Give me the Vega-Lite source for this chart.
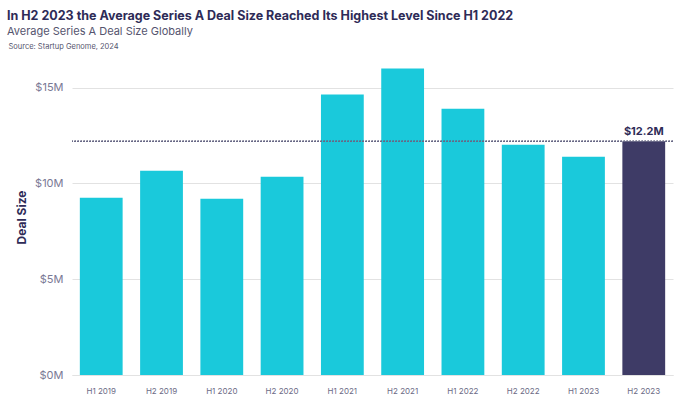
{
  "$schema": "https://vega.github.io/schema/vega-lite/v6.json",
  "autosize": {"type": "none"},
  "width": 601,
  "height": 316,
  "padding": {"left": 72, "top": 59, "right": 11, "bottom": 23},
  "background": "white",
  "config": {
    "font": "Inter",
    "view": {"stroke": null}
  },
  "title": {
    "text": "In H2 2023 the Average Series A Deal Size Reached Its Highest Level Since H1 2022",
    "subtitle": "Average Series A Deal Size Globally",
    "anchor": "start",
    "frame": "bounds",
    "dx": -1,
    "dy": -5,
    "fontSize": 12.5,
    "fontWeight": "bold",
    "color": "#2e2b57",
    "subtitleFontSize": 11,
    "subtitleColor": "#55546e",
    "subtitlePadding": 4,
    "offset": 0
  },
  "data": {
    "values": [
      {"period": "H1 2019", "value": 9.25, "highlight": "no"},
      {"period": "H2 2019", "value": 10.66, "highlight": "no"},
      {"period": "H1 2020", "value": 9.2, "highlight": "no"},
      {"period": "H2 2020", "value": 10.35, "highlight": "no"},
      {"period": "H1 2021", "value": 14.64, "highlight": "no"},
      {"period": "H2 2021", "value": 16.0, "highlight": "no"},
      {"period": "H1 2022", "value": 13.9, "highlight": "no"},
      {"period": "H2 2022", "value": 12.02, "highlight": "no"},
      {"period": "H1 2023", "value": 11.4, "highlight": "no"},
      {"period": "H2 2023", "value": 12.2, "highlight": "yes"}
    ]
  },
  "resolve": {"axis": {"x": "independent"}},
  "layer": [
    {
      "mark": {"type": "bar"},
      "encoding": {
        "x": {
          "field": "period",
          "type": "nominal",
          "sort": null,
          "scale": {"paddingInner": 0.29, "paddingOuter": 0.13},
          "axis": {
            "title": null,
            "labelAngle": 0,
            "labelFontSize": 8,
            "labelColor": "#6b6a85",
            "labelPadding": 12,
            "ticks": false,
            "domainColor": "#e2e2e2",
            "grid": false
          }
        },
        "y": {
          "field": "value",
          "type": "quantitative",
          "scale": {"domain": [0, 16.5], "nice": false},
          "axis": {
            "title": "Deal Size",
            "titleFontSize": 12,
            "titleFontWeight": "bold",
            "titleColor": "#2e2b57",
            "titlePadding": 6,
            "values": [0, 5, 10, 15],
            "labelExpr": "'$' + datum.value + 'M'",
            "labelFontSize": 11,
            "labelColor": "#7a7995",
            "labelPadding": 9,
            "ticks": false,
            "domain": false,
            "gridColor": "#e2e2e2"
          }
        },
        "color": {
          "field": "highlight",
          "type": "nominal",
          "scale": {"domain": ["no", "yes"], "range": ["#1ac9db", "#3e3b66"]},
          "legend": null
        }
      }
    },
    {
      "mark": {"type": "rule", "strokeDash": [1.5, 1.5], "color": "#6a6988", "strokeWidth": 0.8},
      "encoding": {
        "y": {"datum": 12.2, "type": "quantitative"}
      }
    },
    {
      "transform": [{"filter": "datum.highlight == 'yes'"}],
      "mark": {"type": "text", "dy": -9, "fontSize": 11, "fontWeight": "bold", "color": "#2e2b57"},
      "encoding": {
        "x": {
          "field": "period",
          "type": "nominal",
          "sort": null,
          "axis": {
            "orient": "top",
            "title": "Source: Startup Genome, 2024",
            "titleFontSize": 7.5,
            "titleFontWeight": "normal",
            "titleColor": "#55546e",
            "titleAnchor": "start",
            "titleAlign": "left",
            "titleX": -64,
            "titleY": -9,
            "labels": false,
            "ticks": false,
            "domain": false,
            "grid": false
          }
        },
        "y": {"field": "value", "type": "quantitative"},
        "text": {"value": "$12.2M"}
      }
    }
  ]
}
